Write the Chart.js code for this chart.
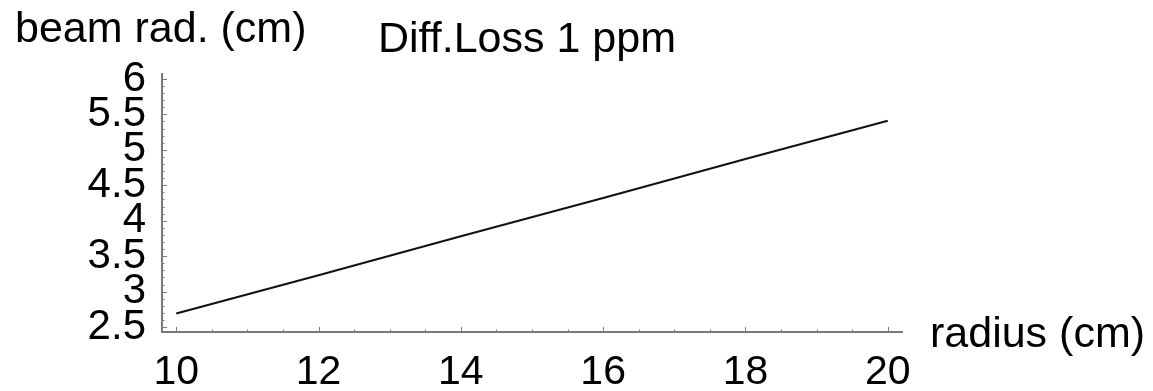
<!DOCTYPE html>
<html>
<head>
<meta charset="utf-8">
<script src="https://cdn.jsdelivr.net/npm/chart.js@4"></script>
<style>
  html, body { margin: 0; padding: 0; background: #fff; }
  #wrap { width: 1153px; height: 391px; }
</style>
</head>
<body>
<div id="wrap"><canvas id="chart" width="1153" height="391"></canvas></div>
<script>
// chart data
var radius = [10, 12, 14, 16, 18, 20];
var beamRad = [2.69, 3.23, 3.78, 4.32, 4.87, 5.41];
var xTicks = [10, 12, 14, 16, 18, 20];
var yTicks = [2.5, 3, 3.5, 4, 4.5, 5, 5.5, 6];

var axisColor = "#7a7a7a";
var fontFam = "'Liberation Sans', Arial, sans-serif";

//small inward tick marks like the original plot
var tickMarks = {
	id: "tickMarks",
	afterDraw: function( chart ){
		var ctx = chart.ctx, xs = chart.scales.x, ys = chart.scales.y;
		var bottom = chart.chartArea.bottom, left = chart.chartArea.left;
		ctx.save();
		ctx.strokeStyle = axisColor;
		ctx.lineWidth = 1;
		ctx.beginPath();
		for( var v = 10; v <= 20.001; v += 0.5 ){
			var px = Math.round( xs.getPixelForValue( v ) ) + 0.5;
			var len = ( Math.abs( v % 2 ) < 0.001 ) ? 5 : 2.5;
			ctx.moveTo( px, bottom );
			ctx.lineTo( px, bottom - len );
		}
		for( var i = 25; i <= 60; i++ ){
			var py = Math.round( ys.getPixelForValue( i / 10 ) ) + 0.5;
			var l2 = ( i % 5 == 0 ) ? 5 : 2.5;
			ctx.moveTo( left, py );
			ctx.lineTo( left + l2, py );
		}
		ctx.stroke();
		ctx.restore();
	}
};

//free standing texts (axis names and title)
var labels = {
	id: "labels",
	afterDraw: function( chart ){
		var ctx = chart.ctx;
		ctx.save();
		ctx.fillStyle = "#000";
		ctx.font = "43px " + fontFam;
		ctx.textBaseline = "alphabetic";
		ctx.textAlign = "left";
		ctx.fillText( "beam rad. (cm)", 15, 42 );
		ctx.fillText( "Diff.Loss 1 ppm", 378, 52 );
		ctx.fillText( "radius (cm)", 930, 347 );
		ctx.restore();
	}
};

var chart = new Chart( document.getElementById("chart").getContext("2d"), {
	type: "line",
	data: {
		datasets: [{
			data: radius.map( function( r, i ){ return { x: r, y: beamRad[i] }; } ),
			borderColor: "#111",
			borderWidth: 2,
			pointRadius: 0,
			tension: 0,
			fill: false
		}]
	},
	options: {
		responsive: false,
		animation: false,
		events: [],
		layout: { padding: { top: 74, right: 251, left: 0, bottom: 0 } },
		plugins: {
			legend: { display: false },
			title: { display: false },
			tooltip: { enabled: false }
		},
		scales: {
			x: {
				type: "linear",
				min: 9.8,
				max: 20.2,
				afterBuildTicks: function( s ){ s.ticks = xTicks.map( function( v ){ return { value: v }; } ); },
				afterFit: function( s ){ s.height = 59; },
				grid: { display: false },
				border: { display: true, color: axisColor, width: 2 },
				ticks: {
					color: "#000",
					padding: 8,
					maxRotation: 0,
					autoSkip: false,
					font: { family: fontFam, size: 41 }
				}
			},
			y: {
				type: "linear",
				min: 2.43,
				max: 6.07,
				afterBuildTicks: function( s ){ s.ticks = yTicks.map( function( v ){ return { value: v }; } ); },
				afterFit: function( s ){ s.width = 162; },
				grid: { display: false },
				border: { display: true, color: axisColor, width: 2 },
				ticks: {
					color: "#000",
					padding: 8,
					autoSkip: false,
					font: { family: fontFam, size: 42, lineHeight: 0.85 },
					callback: function( v ){ return String( v ); }
				}
			}
		}
	},
	plugins: [ tickMarks, labels ]
});
</script>
</body>
</html>
